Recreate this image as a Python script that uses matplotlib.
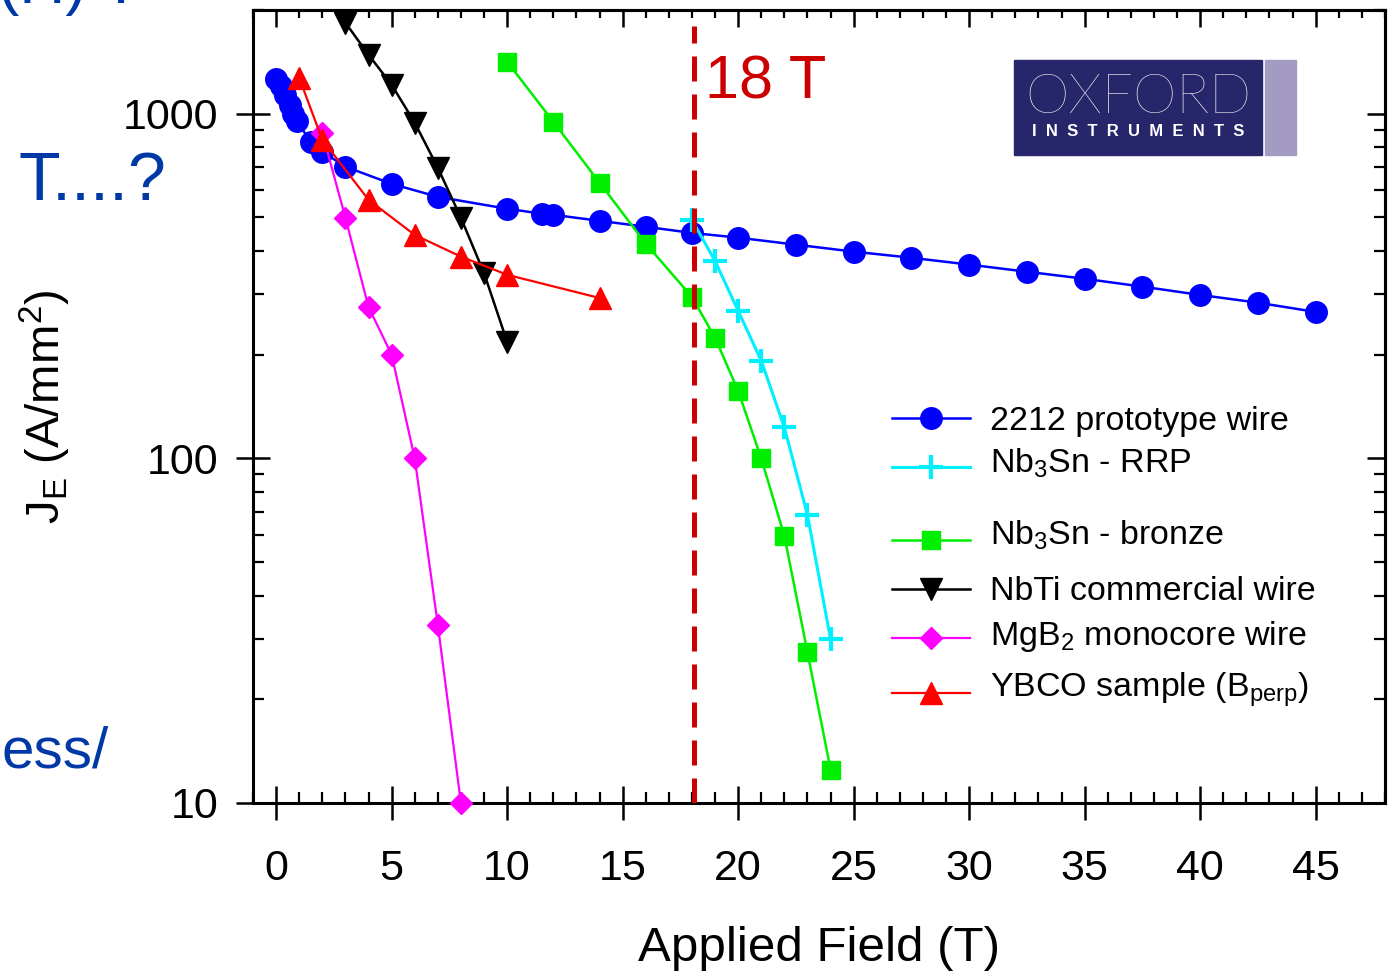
import numpy as np
import matplotlib
matplotlib.use("Agg")
import matplotlib.pyplot as plt
from matplotlib.ticker import FixedLocator, NullFormatter, MultipleLocator, LogLocator

plt.rcParams['font.family'] = ['Liberation Sans', 'DejaVu Sans']
plt.rcParams['mathtext.fontset'] = 'custom'
plt.rcParams['mathtext.rm'] = 'Liberation Sans'
plt.rcParams['mathtext.it'] = 'Liberation Sans'

# data
b2212_x = [0, 0.2, 0.4, 0.6, 0.75, 0.9, 1.5, 2, 3, 5, 7, 10, 11.5, 12, 14, 16, 18, 20,
           22.5, 25, 27.5, 30, 32.5, 35, 37.5, 40, 42.5, 45]
b2212_y = [1260, 1200, 1130, 1060, 1000, 950, 830, 776, 702, 626, 574, 530, 513, 509, 489,
           470, 451, 437, 417, 398, 382, 365, 348, 332, 315, 298, 283, 266]

rrp_x = [18, 19, 20, 21, 22, 23, 24]
rrp_y = [492, 374, 268, 192, 123, 68.6, 29.9]

bronze_x = [10, 12, 14, 16, 18, 19, 20, 21, 22, 23, 24]
bronze_y = [1416, 948, 631, 420, 294, 224, 157, 100, 59.6, 27.4, 12.5]

nbti_x = [3, 4, 5, 6, 7, 8, 9, 10]
nbti_y = [1837, 1483, 1214, 942, 697, 499, 345, 218]

mgb2_x = [2, 3, 4, 5, 6, 7, 8]
mgb2_y = [880, 499, 275, 200, 100, 32.9, 10]

ybco_x = [1, 2, 4, 6, 8, 10, 14]
ybco_y = [1272, 840, 563, 445, 385, 341, 292]

labels = ['2212 prototype wire', r'Nb$_\mathregular{3}$Sn - RRP', r'Nb$_\mathregular{3}$Sn - bronze',
          'NbTi commercial wire', r'MgB$_\mathregular{2}$ monocore wire',
          r'YBCO sample (B$_\mathregular{perp}$)']

series = [
    (b2212_x, b2212_y, dict(color='#0000ff', marker='o', ms=15.5, lw=1.8)),
    (rrp_x, rrp_y, dict(color='#00f0ff', marker='+', ms=17, mew=3, lw=2.2)),
    (bronze_x, bronze_y, dict(color='#00ee00', marker='s', ms=13, lw=1.8)),
    (nbti_x, nbti_y, dict(color='#000000', marker='v', ms=16, lw=1.8)),
    (mgb2_x, mgb2_y, dict(color='#ff00ff', marker='D', ms=11.5, lw=1.6)),
    (ybco_x, ybco_y, dict(color='#ff0000', marker='^', ms=16, lw=1.6)),
]

fig = plt.figure(figsize=(13.89, 9.74), dpi=100)
ax = fig.add_axes([253 / 1389, 1 - 803 / 974, 1132 / 1389, 793 / 974])

for x, y, st in series:
    ax.plot(x, y, clip_on=False, zorder=3, **st)

ax.set_yscale('log')
ax.set_xlim(-1, 48)
ax.set_ylim(10, 2000)

# 18 T line
ax.plot([18.1, 18.1], [10, 1800], color='#cc0000', lw=3.6, ls=(0, (5, 2.6)), zorder=4)
ax.text(18.55, 1110, '18 T', color='#cc0000', fontsize=44, va='baseline')

ax.xaxis.set_major_locator(MultipleLocator(5))
ax.xaxis.set_minor_locator(MultipleLocator(1))
ax.yaxis.set_major_locator(FixedLocator([10, 100, 1000]))
ax.yaxis.set_minor_locator(LogLocator(base=10, subs=np.arange(2, 10)))
ax.yaxis.set_minor_formatter(NullFormatter())
ax.set_yticklabels(['10', '100', '1000'])

for s in ax.spines.values():
    s.set_linewidth(2.2)
ax.tick_params(which='major', direction='inout', length=24, width=1.8, labelsize=31)
ax.tick_params(which='minor', direction='in', length=8, width=1.6)
ax.tick_params(axis='x', which='major', pad=21)
ax.tick_params(axis='y', which='major', pad=13)

# top and right ticks point inward only
top = ax.secondary_xaxis('top')
top.xaxis.set_major_locator(MultipleLocator(5))
top.xaxis.set_minor_locator(MultipleLocator(1))
top.tick_params(which='major', direction='in', length=12, width=1.8, labeltop=False)
top.tick_params(which='minor', direction='in', length=6, width=1.6)
right = ax.secondary_yaxis('right')
right.yaxis.set_major_locator(FixedLocator([10, 100, 1000]))
right.yaxis.set_minor_locator(LogLocator(base=10, subs=np.arange(2, 10)))
right.tick_params(which='major', direction='in', length=13, width=1.8, labelright=False)
right.tick_params(which='minor', direction='in', length=8, width=1.6, labelright=False)
for sa in (top, right):
    for s in sa.spines.values():
        s.set_linewidth(2.2)

ax.set_xlabel('Applied Field (T)', fontsize=35.5, labelpad=27)
ax.set_ylabel(r'J$_\mathregular{E}$ (A/mm$^\mathregular{2}$)', fontsize=34, labelpad=36)

# legend drawn by hand to keep the uneven row spacing
line_y = [418, 467, 540, 589, 638, 693]
text_y = [430, 473, 545, 600, 645, 697]
for (x, y, st), lab, ly, ty in zip(series, labels, line_y, text_y):
    yy = (803 - ly) / 793
    ax.plot([(892 - 253) / 1132, (970 - 253) / 1132], [yy, yy], transform=ax.transAxes,
            color=st['color'], lw=st['lw'], clip_on=False)
    mk = {k: v for k, v in st.items() if k in ('marker', 'ms', 'mew', 'color')}
    ax.plot([(931 - 253) / 1132], [yy], transform=ax.transAxes, ls='none', clip_on=False, **mk)
    ax.text((990 - 253) / 1132, (803 - ty) / 793, lab, transform=ax.transAxes,
            fontsize=24.5, va='baseline', ha='left')

# Oxford Instruments logo
fig.patches.append(plt.Rectangle((1014 / 1389, 1 - 155 / 974), 248 / 1389, 95 / 974,
                                 transform=fig.transFigure, color='#27266b', zorder=5))
fig.patches.append(plt.Rectangle((1265 / 1389, 1 - 155 / 974), 31 / 1389, 95 / 974,
                                 transform=fig.transFigure, color='#a39bc2', zorder=5))
fig.text(1138 / 1389, 1 - 98 / 974, 'OXFORD', color='white', fontsize=40, ha='center',
         va='center', family='Lato', fontweight='light', zorder=6)
fig.text(1138 / 1389, 1 - 131 / 974, 'I  N  S  T  R  U  M  E  N  T  S', color='white',
         fontsize=12, ha='center', va='center', fontweight='bold', zorder=6)

# fragments of the surrounding slide text
slide_blue = '#0039a6'
fig.text(-2 / 1389, 1 - 3 / 974, '(H) ?', color=slide_blue, fontsize=46, va='baseline')
fig.text(18 / 1389, 1 - 200 / 974, 'T....?', color=slide_blue, fontsize=49, va='baseline')
fig.text(1 / 1389, 1 - 768 / 974, 'ess/', color=slide_blue, fontsize=42, va='baseline',
         ha='left')

fig.savefig('out.png', dpi=100)
